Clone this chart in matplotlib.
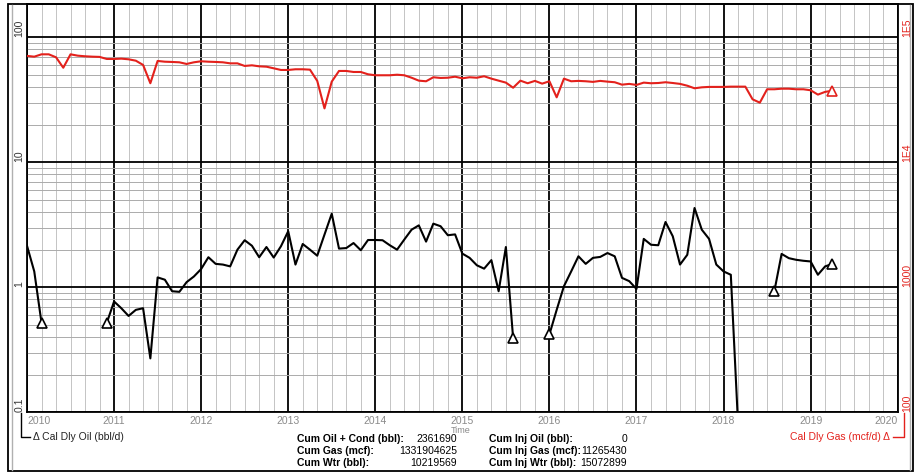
import numpy as np
import matplotlib.pyplot as plt
from matplotlib.ticker import FixedLocator, NullFormatter
from matplotlib.lines import Line2D
from matplotlib.patches import Rectangle

plt.rcParams['font.family'] = ['Liberation Sans', 'DejaVu Sans']

W, H = 919, 475

# monthly data, Jan 2010 .. Apr 2019 (None = no production)
oil_bbl_d = [
    2.15, 1.34, 0.52, None, None, None, None, None, None, None, None, 0.52,   # 2010
    0.77, 0.68, 0.59, 0.66, 0.68, 0.27, 1.20, 1.15, 0.93, 0.92, 1.10, 1.22,   # 2011
    1.40, 1.74, 1.54, 1.52, 1.47, 2.00, 2.38, 2.15, 1.74, 2.10, 1.73, 2.13,   # 2012
    2.81, 1.52, 2.22, 2.00, 1.79, 2.64, 3.88, 2.04, 2.06, 2.26, 1.98, 2.39,   # 2013
    2.39, 2.38, 2.17, 2.00, 2.41, 2.89, 3.13, 2.32, 3.23, 3.08, 2.61, 2.65,   # 2014
    1.86, 1.72, 1.50, 1.41, 1.65, 0.93, 2.10, 0.39, None, None, None, None,   # 2015
    0.42, 0.66, 1.02, 1.34, 1.77, 1.54, 1.72, 1.75, 1.88, 1.77, 1.19, 1.12,   # 2016
    0.97, 2.44, 2.19, 2.17, 3.33, 2.56, 1.52, 1.82, 4.31, 2.89, 2.44, 1.52,   # 2017
    1.34, 1.26, 0.08, None, None, None, None, 0.93, 1.85, 1.71, 1.66, 1.63,   # 2018
    1.61, 1.26, 1.47, 1.54,                                                   # 2019
]

gas_mcf_d = [
    71000, 70000, 73100, 73100, 69200, 57100, 73100, 71300, 70500, 70000, 69700, 67100,  # 2010
    67100, 67500, 66700, 65000, 60100, 42900, 64700, 63800, 63500, 63100, 61200, 63100,  # 2011
    64300, 63800, 63500, 63100, 61900, 61900, 59000, 59700, 58600, 58200, 56500, 54800,  # 2012
    54800, 55500, 55500, 55100, 44800, 27000, 44200, 53800, 53800, 52800, 52800, 50600,  # 2013
    49700, 49700, 49700, 50200, 49700, 47500, 45000, 44500, 47900, 47300, 47500, 48400,  # 2014
    47000, 47900, 47500, 48800, 46700, 45000, 43400, 39500, 45000, 42900, 44800, 42600,  # 2015
    44500, 33100, 46700, 44500, 44800, 44500, 44000, 44800, 44200, 43700, 41800, 42400,  # 2016
    41600, 43400, 42900, 43100, 43700, 43100, 42400, 41000, 39100, 39800, 40100, 40100,  # 2017
    40100, 40300, 40300, 40300, 31900, 30000, 38400, 38400, 38800, 38800, 38400, 38400,  # 2018
    37700, 34800, 36600, 37400,                                                          # 2019
]

oil_markers = [2, 11, 67, 72, 103, 111]
gas_markers = [111]

years = list(range(2010, 2021))
left_ticks = [0.1, 1, 10, 100]
left_labels = ['0.1', '1', '10', '100']
right_ticks = [100, 1000, 1e4, 1e5]
right_labels = ['100', '1000', '1E4', '1E5']

stats_left = [('Cum Oil + Cond (bbl):', '2361690'),
              ('Cum Gas (mcf):', '1331904625'),
              ('Cum Wtr (bbl):', '10219569')]
stats_right = [('Cum Inj Oil (bbl):', '0'),
               ('Cum Inj Gas (mcf):', '11265430'),
               ('Cum Inj Wtr (bbl):', '15072899')]


def fx(x):
    return x / W


def fy(y):
    return 1 - y / H


oil = np.array([np.nan if v is None else v for v in oil_bbl_d])
gas = np.array(gas_mcf_d, dtype=float)
t_oil = 2010 + np.arange(len(oil)) / 12
t_gas = 2010 + np.arange(len(gas)) / 12

fig = plt.figure(figsize=(W / 100, H / 100), dpi=100)
ax = fig.add_axes([fx(27), fy(412.3), fx(897.7 - 27), (412.3 - 4) / H])

ax.set_yscale('log')
ax.set_ylim(0.1, 184.7)
ax.set_xlim(2010, 2020)

ax.xaxis.set_major_locator(FixedLocator(years))
ax.xaxis.set_minor_locator(FixedLocator([y + m / 12 for y in range(2010, 2020) for m in range(2, 12, 2)]))
ax.set_xticklabels([str(y) for y in years])
ax.yaxis.set_major_locator(FixedLocator(left_ticks))
ax.yaxis.set_minor_locator(FixedLocator([d * k for d in [0.1, 1, 10, 100] for k in range(2, 10)]))
ax.yaxis.set_minor_formatter(NullFormatter())
ax.set_yticklabels(left_labels)

ax.set_axisbelow(True)
ax.xaxis.grid(True, which='major', color='black', lw=1.3)
ax.yaxis.grid(True, which='major', color='black', lw=1.3)
ax.xaxis.grid(True, which='minor', color='#c4c4c4', lw=0.7)
ax.yaxis.grid(True, which='minor', color='#ababab', lw=0.7)

ax.tick_params(axis='x', which='both', length=0, pad=3, labelsize=7.5, labelcolor='#8a8a8a')
ax.tick_params(axis='y', which='both', length=0, pad=2, labelsize=7.5, labelcolor='#333333')
for lab in ax.get_yticklabels():
    lab.set_rotation(90)
    lab.set_va('bottom')
xl = ax.get_xticklabels()
xl[0].set_ha('left')
xl[-1].set_ha('right')

for s in ax.spines.values():
    s.set_linewidth(1.3)
    s.set_color('black')

ax.plot(t_oil, oil, color='black', lw=1.5, marker='^', markevery=oil_markers,
        ms=6.5, mfc='white', mec='black', mew=1.2, zorder=3)

ax2 = ax.twinx()
ax2.set_yscale('log')
ax2.set_ylim(100, 184700)
ax2.yaxis.set_major_locator(FixedLocator(right_ticks))
ax2.yaxis.set_minor_locator(FixedLocator([]))
ax2.set_yticklabels(right_labels)
ax2.tick_params(axis='y', length=0, pad=3, labelsize=7.5, labelcolor='#e3211c')
for lab in ax2.get_yticklabels():
    lab.set_rotation(90)
    lab.set_va('bottom')
for s in ax2.spines.values():
    s.set_visible(False)
ax2.plot(t_gas, gas, color='#e3211c', lw=1.5, marker='^', markevery=gas_markers,
         ms=6.5, mfc='white', mec='#e3211c', mew=1.2, zorder=3)

# axis title and legends
fig.text(fx(461), fy(430.5), 'Time', ha='center', va='center', fontsize=6.5, color='#8a8a8a')

fig.add_artist(Line2D([fx(21), fx(21), fx(30)], [fy(413), fy(437), fy(437)], color='black', lw=1))
fig.text(fx(33), fy(437), '\u0394 Cal Dly Oil (bbl/d)', ha='left', va='center', fontsize=7.5, color='#222222')

fig.add_artist(Line2D([fx(904), fx(904), fx(893)], [fy(413), fy(437), fy(437)], color='#e3211c', lw=1))
fig.text(fx(890), fy(437), 'Cal Dly Gas (mcf/d) \u0394', ha='right', va='center', fontsize=7.5, color='#e3211c')

for i, (lab, val) in enumerate(stats_left):
    yy = fy(439 + 12 * i)
    fig.text(fx(297), yy, lab, ha='left', va='center', fontsize=7.5, fontweight='bold')
    fig.text(fx(457), yy, val, ha='right', va='center', fontsize=7.5)
for i, (lab, val) in enumerate(stats_right):
    yy = fy(439 + 12 * i)
    fig.text(fx(489), yy, lab, ha='left', va='center', fontsize=7.5, fontweight='bold')
    fig.text(fx(627), yy, val, ha='right', va='center', fontsize=7.5)

# outer frame
fig.add_artist(Rectangle((fx(8), fy(471)), fx(913 - 8), (471 - 4) / H, fill=False,
                         edgecolor='black', lw=1.3, transform=fig.transFigure))
fig.add_artist(Line2D([fx(11.5), fx(11.5)], [fy(5), fy(470)], color='#b0b0b0', lw=1))
fig.add_artist(Line2D([fx(909.5), fx(909.5)], [fy(5), fy(470)], color='#b0b0b0', lw=1))

fig.savefig('out.png', dpi=100)
